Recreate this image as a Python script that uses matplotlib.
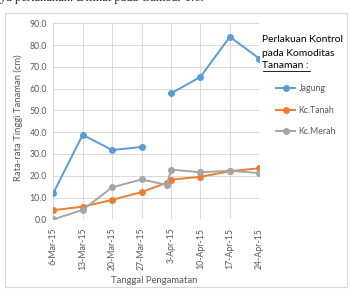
import datetime as dt
import numpy as np
import matplotlib
matplotlib.use('Agg')
import matplotlib.pyplot as plt
from matplotlib.patches import Rectangle
from matplotlib.lines import Line2D

plt.rcParams['font.family'] = ['Lato', 'DejaVu Sans']

# tanggal pengamatan (2015)
tanggal = ['2015-03-06', '2015-03-13', '2015-03-20', '2015-03-27', '2015-04-02',
           '2015-04-03', '2015-04-10', '2015-04-17', '2015-04-24']
jagung = [12.0, 38.8, 31.8, 33.2, np.nan, 57.8, 65.4, 83.8, 73.8]
kc_tanah = [4.2, 5.8, 8.9, 12.5, 16.8, 18.2, 19.5, 22.1, 23.4]
kc_merah = [0.0, 4.3, 14.7, 18.3, 15.8, 22.8, 21.6, 22.3, 21.2]

tick_tanggal = ['2015-03-06', '2015-03-13', '2015-03-20', '2015-03-27',
                '2015-04-03', '2015-04-10', '2015-04-17', '2015-04-24']
tick_label = ['6-Mar-15', '13-Mar-15', '20-Mar-15', '27-Mar-15',
              '3-Apr-15', '10-Apr-15', '17-Apr-15', '24-Apr-15']

x = [dt.datetime.strptime(t, '%Y-%m-%d') for t in tanggal]
xt = [dt.datetime.strptime(t, '%Y-%m-%d') for t in tick_tanggal]

grey = '#595959'
fig = plt.figure(figsize=(3.51, 2.89), dpi=100)

# bingkai grafik
fig.add_artist(Rectangle((5 / 351, 2 / 289), 342 / 351, 274 / 289,
                         transform=fig.transFigure, fill=False,
                         edgecolor='#D9D9D9', linewidth=0.8))
# potongan teks di atas (terpotong seperti aslinya)
fig.text(0.0, 1 - 1.5 / 289, 'ya pertanahan. Dilihat pada Gambar 1.6.',
         family='Liberation Serif', fontsize=9, color='#222222', va='baseline')

ax = fig.add_axes([53.3 / 351, 69.7 / 289, 206 / 351, 196 / 289])
ax.plot(x, jagung, color='#5B9BD5', lw=1.4, marker='o', ms=4, label='Jagung')
ax.plot(x, kc_tanah, color='#ED7D31', lw=1.4, marker='o', ms=4, label='Kc.Tanah')
ax.plot(x, kc_merah, color='#A5A5A5', lw=1.4, marker='o', ms=4, label='Kc.Merah')

ax.set_xlim(xt[0], xt[-1])
ax.set_ylim(0, 90)
ax.set_yticks(np.arange(0, 91, 10))
ax.set_yticklabels([f'{v:.1f}' for v in np.arange(0, 91, 10)])
ax.set_xticks(xt)
ax.set_xticklabels(tick_label, rotation=90)
ax.tick_params(axis='both', length=0, labelsize=6.3, colors=grey)
ax.tick_params(axis='y', pad=4.5)
ax.tick_params(axis='x', pad=6)
ax.grid(True, color='#D9D9D9', lw=0.7)
ax.set_axisbelow(True)
for s in ax.spines.values():
    s.set_visible(False)

ax.set_ylabel('Rata-rata Tinggi Tanaman (cm)', fontsize=6.8, color=grey)
ax.yaxis.set_label_coords(-0.147, 0.52)
ax.set_xlabel('Tanggal Pengamatan', fontsize=6.8, color=grey)
ax.xaxis.set_label_coords(0.489, -0.289)

# judul legenda
fig.text(262 / 351, 1 - 42 / 289, 'Perlakuan Kontrol', fontsize=7.4, color='black', va='baseline')
fig.text(262 / 351, 1 - 56 / 289, 'pada Komoditas', fontsize=7.4, color='black', va='baseline')
fig.text(262 / 351, 1 - 68.5 / 289, 'Tanaman :', fontsize=7.4, color='black', va='baseline')
fig.add_artist(Line2D([262.5 / 351, 309.5 / 351], [1 - 70.5 / 289, 1 - 70.5 / 289],
                      transform=fig.transFigure, color='black', lw=0.6))

leg = ax.legend(loc='upper left', bbox_to_anchor=(268 / 351, 1 - 76 / 289),
                bbox_transform=fig.transFigure, frameon=False, fontsize=6.3,
                handlelength=2.2, labelspacing=1.45, handletextpad=0.4)
for t in leg.get_texts():
    t.set_color(grey)

fig.savefig('out.png', dpi=100)
